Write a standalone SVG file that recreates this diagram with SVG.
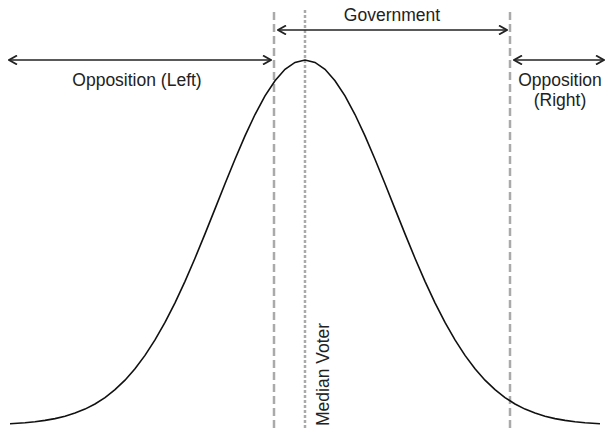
<svg xmlns="http://www.w3.org/2000/svg" width="606" height="429" viewBox="0 0 606 429">
<style>
text{font-family:"Liberation Sans",Arial,sans-serif;font-size:17.5px;fill:#222}
.dash{stroke:#aaa;stroke-width:2.5;stroke-dasharray:8 4;fill:none}
.dot{stroke:#aaa;stroke-width:2.5;stroke-dasharray:3 2;fill:none}
.arr{stroke:#222;stroke-width:1.6;fill:none;marker-start:url(#ah);marker-end:url(#ah)}
</style>
<defs>
<marker id="ah" viewBox="0 0 10 10" refX="9" refY="5" markerWidth="10" markerHeight="10" markerUnits="userSpaceOnUse" orient="auto-start-reverse">
<path d="M1,0.5 L9,5 L1,9.5" fill="none" stroke="#222" stroke-width="1.8"/>
</marker>
</defs>
<g id="guides">
<line class="dash" x1="274" y1="12" x2="274" y2="429"/>
<line class="dot" x1="305" y1="10" x2="305" y2="429"/>
<line class="dash" x1="510" y1="12" x2="510" y2="429"/>
</g>
<g id="curve">
<path fill="none" stroke="#111" stroke-width="1.6" d="M10,423.7 L25,422.7 L35,421.7 L45,420.4 L55,418.6 L65,416.2 L75,413.1 L85,409.1 L95,404 L105,397.6 L115,389.7 L125,380.2 L135,368.8 L145,355.4 L155,339.9 L165,322.4 L175,302.8 L185,281.3 L195,258.2 L205,233.9 L215,208.9 L225,183.8 L235,159.2 L245,135.9 L255,114.5 L265,95.9 L275,80.7 L285,69.3 L295,62.4 L305,60 L315,62.4 L325,69.3 L335,80.7 L345,95.9 L355,114.5 L365,135.9 L375,159.2 L385,183.8 L395,208.9 L405,233.9 L415,258.2 L425,281.3 L435,302.8 L445,322.4 L455,339.9 L465,355.4 L475,368.8 L485,380.2 L495,389.7 L505,397.6 L515,404 L525,409.1 L535,413.1 L545,416.2 L555,418.6 L565,420.4 L575,421.7 L585,422.7 L600,423.7"/>
</g>
<g id="connectors">
<line class="arr" x1="9" y1="60" x2="271" y2="60"/>
<line class="arr" x1="278" y1="30" x2="507" y2="30"/>
<line class="arr" x1="514" y1="60" x2="604" y2="60"/>
</g>
<g id="government"><text x="392" y="20.5" text-anchor="middle">Government</text></g>
<g id="opposition-left"><text x="137" y="86" text-anchor="middle">Opposition (Left)</text></g>
<g id="opposition-right"><text x="560" y="86" text-anchor="middle">Opposition</text><text x="560" y="106" text-anchor="middle">(Right)</text></g>
<g id="median-voter"><text transform="translate(329,426) rotate(-90)">Median Voter</text></g>
</svg>
